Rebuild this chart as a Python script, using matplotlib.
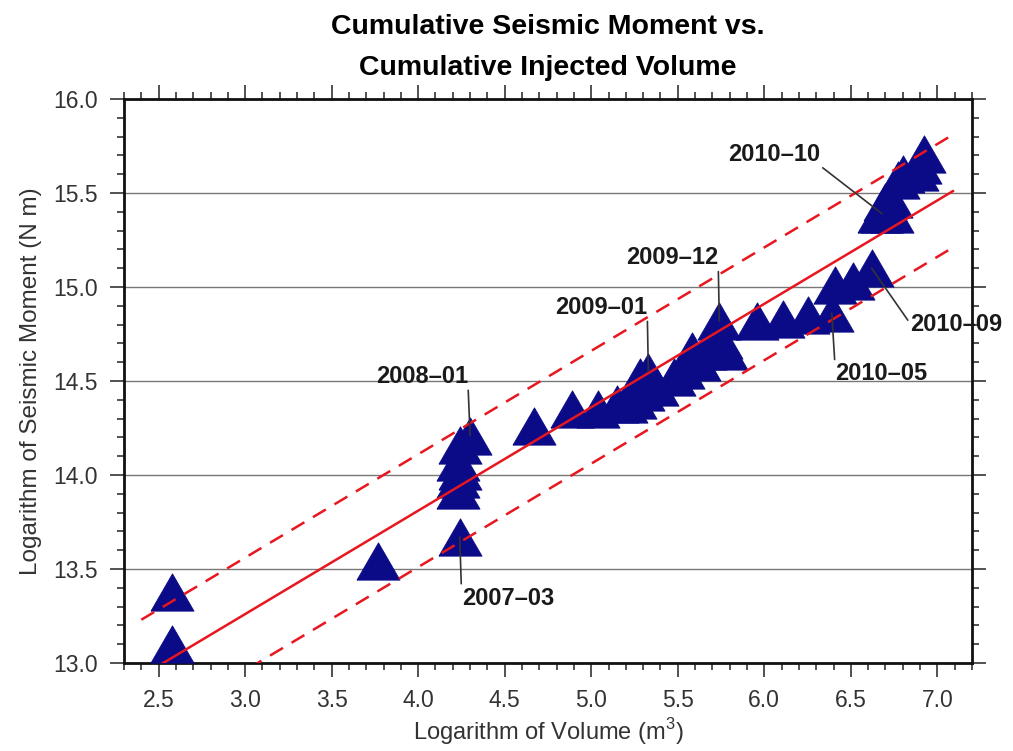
import numpy as np
import matplotlib
matplotlib.use("Agg")
import matplotlib.pyplot as plt
from matplotlib.ticker import MultipleLocator

plt.rcParams["font.family"] = ["Liberation Sans", "DejaVu Sans"]
plt.rcParams["mathtext.fontset"] = "custom"
plt.rcParams["mathtext.rm"] = "Liberation Sans"

# log10 cumulative injected volume (m^3) and log10 cumulative seismic moment (N m)
log_volume = [2.58, 2.58, 3.77, 4.24,
              4.23, 4.23, 4.24, 4.23, 4.24, 4.30,
              4.67, 4.89, 5.04, 5.15, 5.20, 5.25, 5.30, 5.38, 5.28, 5.33,
              5.48, 5.53, 5.58, 5.62, 5.66, 5.70, 5.78, 5.75, 5.74,
              5.96, 6.11, 6.25, 6.39, 6.41, 6.51, 6.62,
              6.66, 6.74, 6.70, 6.73, 6.77, 6.80, 6.88, 6.90, 6.92, 6.68]
log_moment = [13.10, 13.38, 13.54, 13.67,
              13.92, 13.98, 14.02, 14.07, 14.16, 14.21,
              14.26, 14.35, 14.35, 14.38, 14.38, 14.40, 14.44, 14.47, 14.52, 14.55,
              14.52, 14.56, 14.66, 14.60, 14.66, 14.69, 14.66, 14.72, 14.82,
              14.82, 14.83, 14.85, 14.86, 15.01, 15.03, 15.10,
              15.39, 15.39, 15.45, 15.47, 15.57, 15.60, 15.61, 15.65, 15.71, 15.39]

# fitted trend line end points and the +/- band
fit_x = [2.40, 7.09]
fit_y = [12.93, 15.51]
band = 0.3

# labelled months
labels = ["2007–03", "2008–01", "2009–01", "2009–12", "2010–05", "2010–09", "2010–10"]
label_x = [4.24, 4.30, 5.33, 5.74, 6.39, 6.62, 6.68]
label_y = [13.67, 14.21, 14.55, 14.82, 14.86, 15.10, 15.39]
label_dx = [2, -2, -1, -1, 3, 39, -62]
label_dy = [-61, 48, 53, 52, -49, -56, 48]
label_ha = ["left", "right", "right", "right", "left", "left", "right"]
label_va = ["center", "bottom", "bottom", "bottom", "top", "center", "bottom"]
label_rel = [(0, 0.5), (1, 0), (1, 0), (1, 0), (0, 1), (0, 0.5), (1, 0)]

fig = plt.figure(figsize=(10.13, 7.51), dpi=100)
ax = fig.add_axes([0.1224, 0.1172, 0.8371, 0.7510])

tri = [(-1, -0.866), (1, -0.866), (0, 0.866), (-1, -0.866)]
ax.plot(log_volume, log_moment, linestyle="none", marker=tri, markersize=31,
        markerfacecolor="#0b0b88", markeredgecolor="#0b0b88", markeredgewidth=0.6,
        zorder=3)

fx = np.array(fit_x)
fy = np.array(fit_y)
ax.plot(fx, fy, color="#e8161e", lw=1.8, zorder=4)
ax.plot(fx, fy + band, color="#e8161e", lw=1.8, linestyle=(0, (6, 4)), zorder=4)
ax.plot(fx, fy - band, color="#e8161e", lw=1.8, linestyle=(0, (6, 4)), zorder=4)

for i, lab in enumerate(labels):
    ax.annotate(lab, xy=(label_x[i], label_y[i]),
                xytext=(label_dx[i], label_dy[i]), textcoords="offset pixels",
                ha=label_ha[i], va=label_va[i], fontsize=17, fontweight="bold",
                color="#1a1a1a", annotation_clip=False, zorder=5,
                arrowprops=dict(arrowstyle="-", color="#333333", lw=1.2,
                                shrinkA=0, shrinkB=0, relpos=label_rel[i]))

ax.set_xlim(2.3, 7.2)
ax.set_ylim(13.0, 16.0)
ax.xaxis.set_major_locator(MultipleLocator(0.5))
ax.xaxis.set_minor_locator(MultipleLocator(0.1))
ax.yaxis.set_major_locator(MultipleLocator(0.5))
ax.yaxis.set_minor_locator(MultipleLocator(0.1))
ax.xaxis.set_major_formatter(matplotlib.ticker.FormatStrFormatter("%.1f"))
ax.yaxis.set_major_formatter(matplotlib.ticker.FormatStrFormatter("%.1f"))

ax.tick_params(which="both", direction="out", top=True, right=True,
               colors="#222222", width=1.1)
ax.tick_params(which="major", length=10, labelsize=16.5, labelcolor="#333333")
ax.tick_params(which="minor", length=5)
ax.tick_params(axis="x", which="major", pad=9)
ax.tick_params(axis="y", which="major", pad=9)
for s in ax.spines.values():
    s.set_linewidth(2)
    s.set_color("#111111")

ax.set_axisbelow(True)
ax.yaxis.grid(True, color="#777777", lw=1.0)

ax.set_xlabel("Logarithm of Volume (m$^{3}$)", fontsize=17, color="#333333", labelpad=3)
ax.set_ylabel("Logarithm of Seismic Moment (N m)", fontsize=17.5, color="#333333", labelpad=8)
ax.set_title("Cumulative Seismic Moment vs.\nCumulative Injected Volume",
             fontsize=20.5, fontweight="bold", linespacing=1.75, pad=17)

fig.savefig("out.png", dpi=100)
